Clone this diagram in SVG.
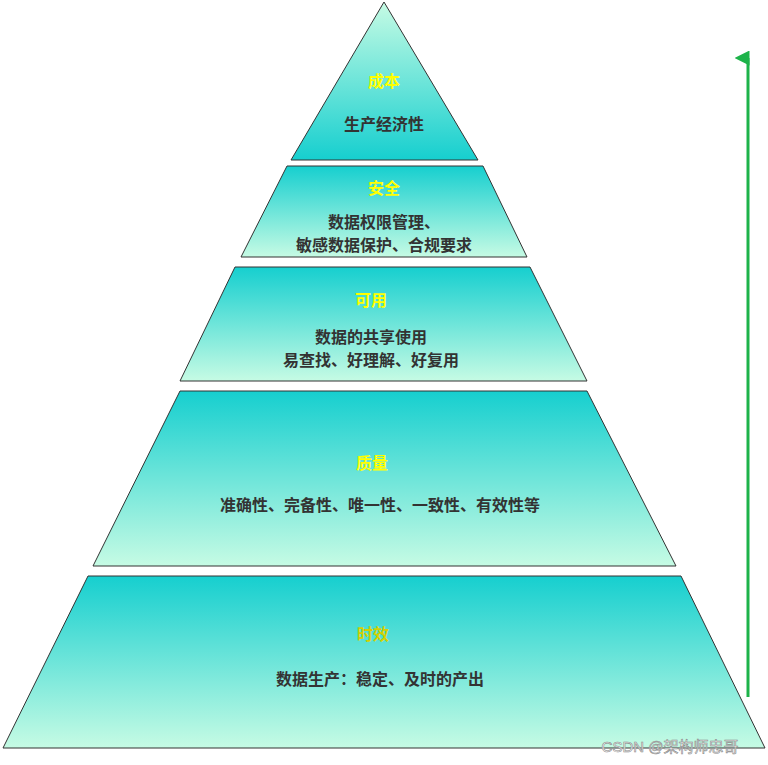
<svg xmlns="http://www.w3.org/2000/svg" width="768" height="765" viewBox="0 0 768 765">
<defs>
<linearGradient id="gd" x1="0" y1="0" x2="0" y2="1"><stop offset="0" stop-color="#16cfcf"/><stop offset="1" stop-color="#c6fbe4"/></linearGradient>
<linearGradient id="gu" x1="0" y1="0" x2="0" y2="1"><stop offset="0" stop-color="#c6fbe4"/><stop offset="1" stop-color="#16cfcf"/></linearGradient>
<marker id="ah" viewBox="0 0 10 10" refX="5" refY="9" markerWidth="5" markerHeight="5" orient="auto-start-reverse" markerUnits="strokeWidth"><path d="M0,10 L5,0 L10,10 Z" fill="#1db34a"/></marker>
</defs>
<style>
.l{stroke:#333;stroke-width:1}
.t{font-family:"Noto Sans CJK SC",sans-serif;font-weight:bold;font-size:16px;fill:#ffff00;text-anchor:middle}
.b{font-family:"Noto Sans CJK SC",sans-serif;font-weight:bold;font-size:16px;fill:#333;text-anchor:middle}
</style>
<rect width="768" height="765" fill="#fff"/>
<g id="n1"><polygon class="l" points="384,2 478,160 291,160" fill="url(#gu)"/><text class="t" x="384" y="87">成本</text><text class="b" x="384" y="130">生产经济性</text></g>
<g id="n2"><polygon class="l" points="287,166 483,166 527,257 241,257" fill="url(#gd)"/><text class="t" x="384" y="194">安全</text><text class="b" x="384" y="228">数据权限管理、</text><text class="b" x="384" y="251">敏感数据保护、合规要求</text></g>
<g id="n3"><polygon class="l" points="235,267 530,267 587,381 180,381" fill="url(#gd)"/><text class="t" x="371" y="306">可用</text><text class="b" x="371" y="343">数据的共享使用</text><text class="b" x="371" y="366">易查找、好理解、好复用</text></g>
<g id="n4"><polygon class="l" points="180,391 587,391 676,566 93,566" fill="url(#gd)"/><text class="t" x="372" y="469">质量</text><text class="b" x="380" y="511">准确性、完备性、唯一性、一致性、有效性等</text></g>
<g id="n5"><polygon class="l" points="88,576 681,576 765,748 3,748" fill="url(#gd)"/><text class="t" x="373" y="640" style="fill:#d4d000">时效</text><text class="b" x="380" y="685">数据生产：稳定、及时的产出</text></g>
<g id="connectors"><line x1="748" y1="697" x2="748" y2="58" stroke="#1db34a" stroke-width="3" marker-end="url(#ah)"/></g>
<text x="670" y="752" font-family="'Liberation Sans','Noto Sans CJK SC',sans-serif" font-size="15" fill="#fff" stroke="#888" stroke-width="0.6" text-anchor="middle">CSDN @架构师忠哥</text>
</svg>
